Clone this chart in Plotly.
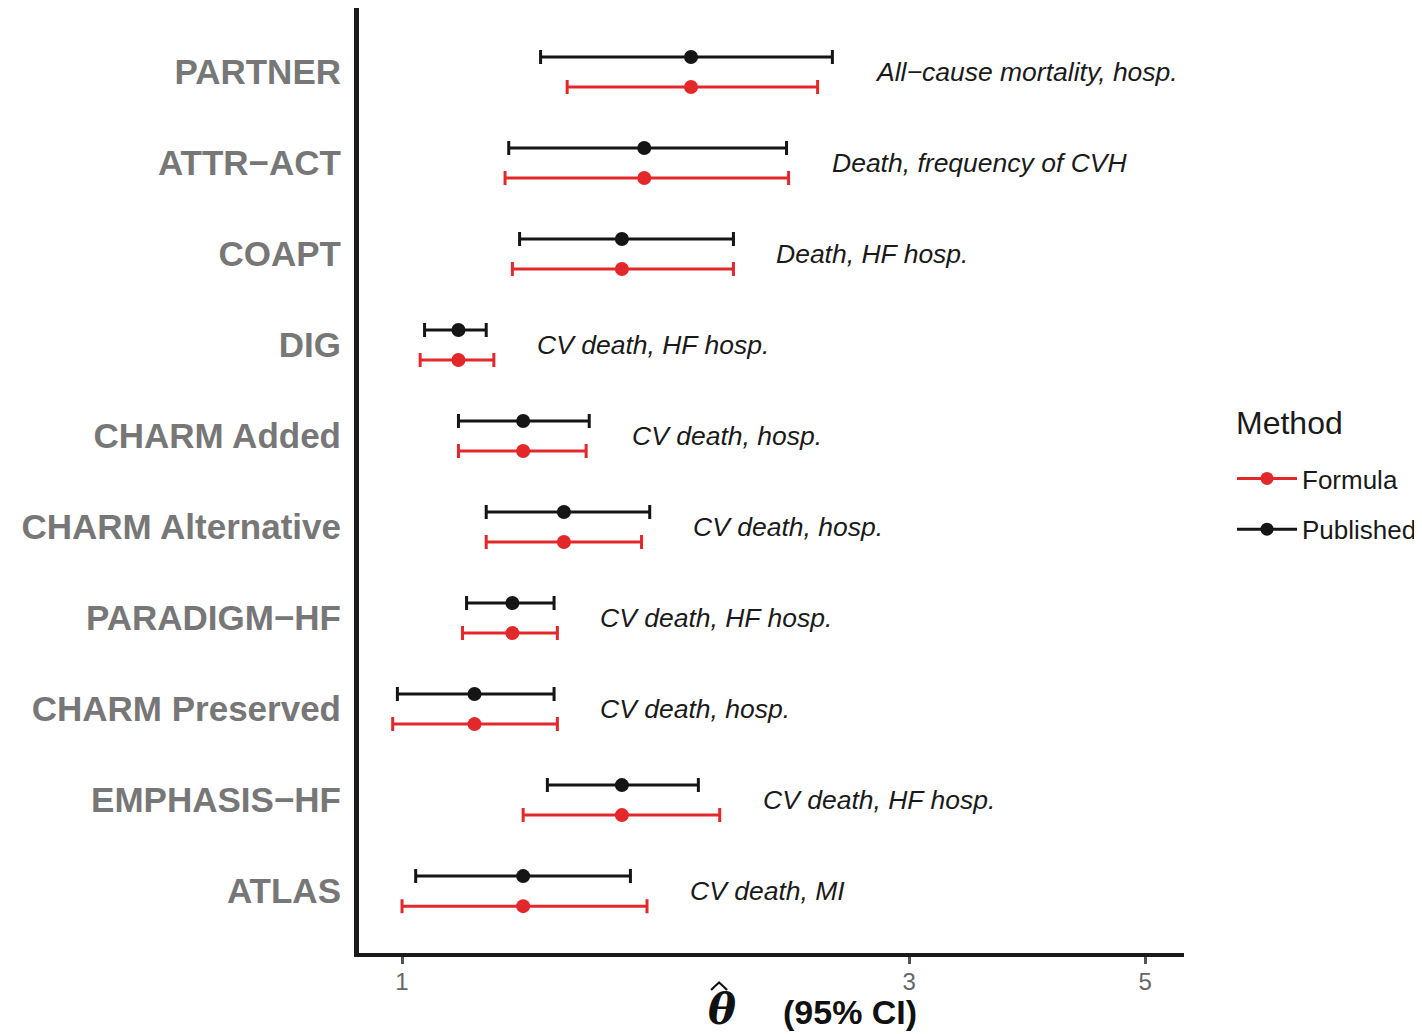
import math
import plotly.graph_objects as go

trials = ["PARTNER", "ATTR\u2212ACT", "COAPT", "DIG", "CHARM Added", "CHARM Alternative",
          "PARADIGM\u2212HF", "CHARM Preserved", "EMPHASIS\u2212HF", "ATLAS"]
outcomes = ["All\u2212cause mortality, hosp.", "Death, frequency of CVH", "Death, HF hosp.",
            "CV death, HF hosp.", "CV death, hosp.", "CV death, hosp.", "CV death, HF hosp.",
            "CV death, hosp.", "CV death, HF hosp.", "CV death, MI"]

pub_est = [1.87, 1.69, 1.61, 1.13, 1.30, 1.42, 1.27, 1.17, 1.61, 1.30]
pub_lo = [1.35, 1.26, 1.29, 1.05, 1.13, 1.20, 1.15, 0.99, 1.37, 1.03]
pub_hi = [2.54, 2.30, 2.05, 1.20, 1.50, 1.71, 1.39, 1.39, 1.90, 1.64]

form_est = [1.87, 1.69, 1.61, 1.13, 1.30, 1.42, 1.27, 1.17, 1.61, 1.30]
form_lo = [1.43, 1.25, 1.27, 1.04, 1.13, 1.20, 1.14, 0.98, 1.30, 1.00]
form_hi = [2.46, 2.31, 2.05, 1.22, 1.49, 1.68, 1.40, 1.40, 1.99, 1.70]

x_ticks = [1, 3, 5]

RED = "#E3282B"
BLACK = "#151515"
n = len(trials)
ypos = [n - 1 - i for i in range(n)]
dodge = 0.165

# figure geometry (page has an 8px body margin)
W, H = 1414, 1026
L, R, T, B = 351, 1177, 0, 945

fig = go.Figure()

def add_series(est, lo, hi, color, offset, name):
    fig.add_trace(go.Scatter(
        x=est, y=[y + offset for y in ypos], mode="markers",
        marker=dict(color=color, size=14),
        error_x=dict(type="data", symmetric=False,
                     array=[h - e for h, e in zip(hi, est)],
                     arrayminus=[e - l for e, l in zip(est, lo)],
                     color=color, thickness=3, width=7),
        showlegend=False, name=name, hoverinfo="x+y"))

add_series(pub_est, pub_lo, pub_hi, BLACK, dodge, "Published")
add_series(form_est, form_lo, form_hi, RED, -dodge, "Formula")

# legend entries
for name, color in [("Formula", RED), ("Published", BLACK)]:
    fig.add_trace(go.Scatter(x=[None], y=[None], mode="lines+markers", name=name,
                             line=dict(color=color, width=3),
                             marker=dict(color=color, size=13),
                             legendgroup=name, showlegend=True))

for i in range(n):
    xm = max(pub_hi[i], form_hi[i])
    fig.add_annotation(x=math.log10(xm), y=ypos[i], xref="x", yref="y",
                       text="<i>" + outcomes[i] + "</i>", showarrow=False,
                       xanchor="left", yanchor="middle", xshift=41,
                       font=dict(family="Liberation Sans, Arial", size=26.5, color="#1a1a1a"))

def px(p):
    return (p - 8 - L) / (R - L)

def py(p):
    return (B - (p - 8)) / (B - T)

# x-axis title pieces
fig.add_annotation(x=px(722), y=py(1009), xref="paper", yref="paper",
                   text="<b><i>\u03b8</i></b>", showarrow=False,
                   xanchor="center", yanchor="middle",
                   font=dict(family="DejaVu Serif", size=42, color="#111111"))
hat = "M {:.5f},{:.5f} Q {:.5f},{:.5f} {:.5f},{:.5f} Q {:.5f},{:.5f} {:.5f},{:.5f}".format(
    px(711.5), py(990), px(716), py(985.5), px(719.5), py(982.5),
    px(723), py(985.5), px(727.5), py(990))
fig.add_shape(type="path", path=hat, xref="paper", yref="paper",
              line=dict(color="#111111", width=2.2))
fig.add_annotation(x=px(851), y=py(1012), xref="paper", yref="paper",
                   text="<b>(95% CI)</b>", showarrow=False,
                   xanchor="center", yanchor="middle",
                   font=dict(family="Liberation Sans, Arial", size=34, color="#111111"))

# legend title
fig.add_annotation(x=px(1235), y=py(423), xref="paper", yref="paper",
                   text="Method", showarrow=False, xanchor="left", yanchor="middle",
                   font=dict(family="Liberation Sans, Arial", size=32, color="#1a1a1a"))

fig.update_layout(
    width=W, height=H,
    margin=dict(l=L, r=W - R, t=T, b=H - B),
    paper_bgcolor="white", plot_bgcolor="white",
    font=dict(family="Liberation Sans, Arial"),
    legend=dict(font=dict(size=26, color="#1a1a1a"),
                x=px(1233), xanchor="left", y=py(455), yanchor="top",
                tracegroupgap=14, itemwidth=60, bgcolor="rgba(0,0,0,0)"),
    xaxis=dict(type="log", range=[math.log10(0.911), math.log10(5.44)],
               tickvals=x_ticks, ticktext=[str(t) for t in x_ticks],
               showgrid=False, zeroline=False,
               showline=True, linecolor="#1a1a1a", linewidth=4,
               ticks="outside", ticklen=7, tickwidth=3, tickcolor="#555555",
               ticklabelstandoff=-3,
               tickfont=dict(size=24, color="#666666")),
    yaxis=dict(range=[-0.68, 9.703], tickvals=ypos, ticktext=trials,
               showgrid=False, zeroline=False,
               showline=True, linecolor="#1a1a1a", linewidth=5,
               ticks="", ticklabelstandoff=6,
               tickfont=dict(size=35, color="#777777", family="Liberation Sans, Arial",
                             weight="bold")),
)

fig.write_html("out.html")
